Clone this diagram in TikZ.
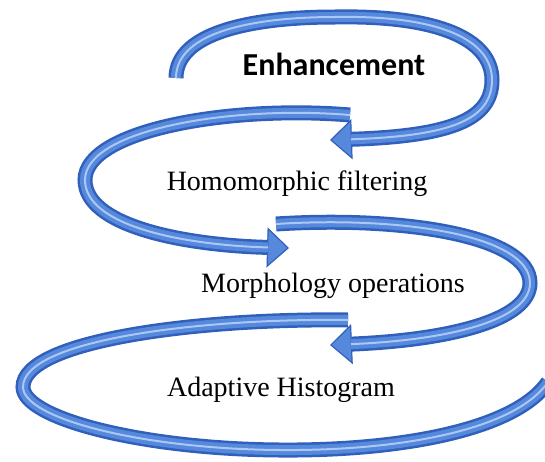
\documentclass[tikz,border=0pt]{standalone}
\usepackage{fontspec}
\setmainfont{Liberation Serif}
\newfontfamily\headfont{Carlito}
\usetikzlibrary{arrows.meta}

\definecolor{bandEdge}{RGB}{48,96,188}
\definecolor{bandBody}{RGB}{86,136,220}
\definecolor{bandShine}{RGB}{170,200,245}

\tikzset{
  ribbon/.style={draw=bandEdge, line width=15pt,
    postaction={draw=bandBody, line width=10pt, arrows=-, shorten >=#1},
    postaction={draw=bandShine, line width=2pt, arrows=-, shorten >=#1}},
  ribbon/.default=0pt,
  headed/.style={ribbon=21pt,
    -{Triangle[length=22pt, width=40pt, line width=1.2pt, fill=bandBody]}},
  step label/.style={anchor=base, font=\fontsize{28}{30}\selectfont},
}

\begin{document}
\begin{tikzpicture}[x=1pt, y=-1pt]
    \useasboundingbox (0,0) rectangle (545,461);
    \clip (0,0) rectangle (545,461);

    % spiral of ribbons, bottom one first so each head lies over the next tail
    \draw[ribbon] (348,320) .. controls (200,318) and (23,340) .. (23,387)
        .. controls (23,418) and (140,449) .. (280,450)
        .. controls (400,451) and (515,430) .. (548,382);
    \draw[headed] (276,224) .. controls (400,216) and (530,235) .. (530,283)
        .. controls (530,320) and (450,340) .. (330,345);
    \draw[headed] (350,115) .. controls (230,105) and (85,130) .. (85,180)
        .. controls (85,225) and (180,245) .. (289,248);
    \draw[headed] (176,78) .. controls (176,30) and (260,17) .. (335,17)
        .. controls (440,15) and (492,40) .. (492,80)
        .. controls (492,120) and (450,136) .. (330,140);

    % labels
    \node[anchor=base, font=\headfont\bfseries\fontsize{32}{34}\selectfont] (enh) at (334,75) {Enhancement};
    \node[step label] (homo) at (297,190) {Homomorphic filtering};
    \node[step label] (morph) at (333,292) {Morphology operations};
    \node[step label] (adapt) at (281,396) {Adaptive Histogram};
\end{tikzpicture}
\end{document}
